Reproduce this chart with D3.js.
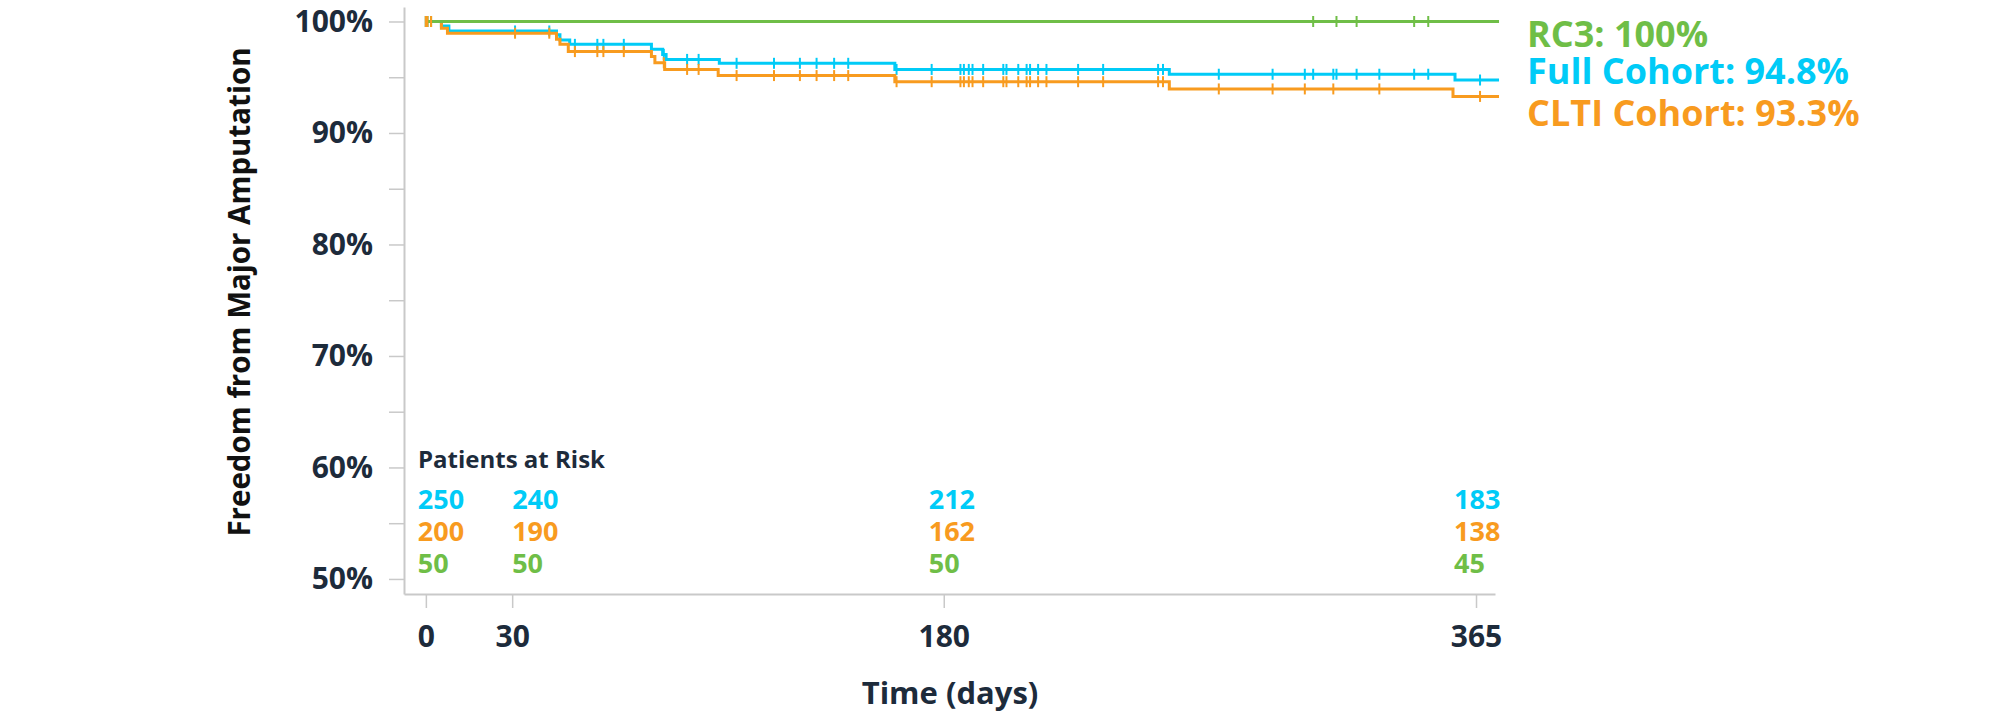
<!DOCTYPE html>
<html>
<head>
<meta charset="utf-8">
<script src="https://cdn.jsdelivr.net/npm/d3@7"></script>
<style>
  html, body { margin: 0; padding: 0; background: #ffffff; }
  svg { display: block; font-family: "Open Sans", Lato, sans-serif; }
</style>
</head>
<body>
<svg id="chart" width="2000" height="715"></svg>
<script>
// ---------------- DATA ----------------
const seriesNames = ["RC3", "Full Cohort", "CLTI Cohort"];
const finalRates = ["100%", "94.8%", "93.3%"];

// Kaplan-Meier steps: [day, survival %]
const rc3Steps = [[0, 100]];
const fullSteps = [[0, 100], [5.4, 99.6], [8, 99.15], [45.4, 98.8], [46.6, 98.35], [50, 97.95],
  [78.4, 97.5], [82.3, 97.05], [83.5, 96.6], [102, 96.25], [163, 95.7], [258.4, 95.27], [357.7, 94.75]];
const cltiSteps = [[0, 100], [5.4, 99.4], [7.5, 98.95], [45.4, 98.4], [46.6, 97.95], [49.5, 97.3],
  [78.4, 96.85], [79.6, 96.3], [83, 95.7], [101.6, 95.15], [163, 94.6], [258.4, 93.95], [357, 93.28]];
const curveEnd = 373;

// censor marks (days)
const rc3Censors = [0, 0.5, 1.8, 308.4, 316.5, 323.5, 343.5, 348.4];
const fullCensors = [0, 0.5, 1.8, 31, 42.9, 51.8, 59.6, 61.7, 68.8, 82.7, 90.8, 94.8, 108, 121, 130,
  135.8, 141.9, 146.8, 163.6, 175.8, 185.8, 187, 188.7, 190, 193.7, 200.7, 201.8, 205.9, 208.8, 210,
  212.8, 215.7, 226.7, 235.4, 254.5, 256.2, 275.6, 294.3, 305.5, 308.4, 315.4, 316.5, 323.5, 331.4,
  343.5, 348.4, 366.4];
const cltiCensors = [0, 0.5, 1.8, 31, 42.9, 51.8, 59.6, 61.7, 68.8, 82.7, 90.8, 94.8, 108, 121, 130,
  135.8, 141.9, 146.8, 163.6, 175.8, 185.8, 187, 188.7, 190, 193.7, 200.7, 201.8, 205.9, 208.8, 210,
  212.8, 215.7, 226.7, 235.4, 254.5, 256.2, 275.6, 294.3, 305.5, 315.4, 331.4, 366.4];

// axes
const yTicks = [50, 55, 60, 65, 70, 75, 80, 85, 90, 95, 100];
const xTicks = [0, 30, 180, 365];

// patients at risk
const riskDays = [0, 30, 180, 365];
const riskFull = [250, 240, 212, 183];
const riskClti = [200, 190, 162, 138];
const riskRc3 = [50, 50, 50, 45];

// ---------------- STYLE ----------------
const colGreen = "#6fbe47";
const colCyan = "#00cbf7";
const colOrange = "#f89b1f";
const colText = "#1d2b3b";
const colAxis = "#c9c9c9";
const fontFam = "'Open Sans', Lato, sans-serif";

const svg = d3.select("#chart");

const x = d3.scaleLinear().domain([-7.6, 371.6]).range([404, 1495]);
const y = d3.scaleLinear().domain([48.65, 101.3]).range([594, 7]);

// y axis
const yAxis = svg.append("g").attr("transform", "translate(404,0)")
  .call(d3.axisLeft(y).tickValues(yTicks).tickSize(15).tickSizeOuter(0).tickPadding(16)
    .tickFormat(d => d % 10 === 0 ? d + "%" : ""));
yAxis.select(".domain").attr("stroke", colAxis).attr("stroke-width", 2);
yAxis.selectAll(".tick line").attr("stroke", colAxis).attr("stroke-width", 1.5);
yAxis.selectAll(".tick text").attr("fill", colText).attr("font-size", 30).attr("font-weight", 700)
  .attr("font-family", fontFam);

// x axis
const xAxis = svg.append("g").attr("transform", "translate(0,594)")
  .call(d3.axisBottom(x).tickValues(xTicks).tickSize(14).tickSizeOuter(0).tickPadding(18)
    .tickFormat(d3.format("d")));
xAxis.select(".domain").attr("stroke", colAxis).attr("stroke-width", 2);
xAxis.selectAll(".tick line").attr("stroke", colAxis).attr("stroke-width", 1.5);
xAxis.selectAll(".tick text").attr("fill", colText).attr("font-size", 30).attr("font-weight", 700)
  .attr("font-family", fontFam);

// axis titles
svg.append("text")
  .attr("transform", "translate(240,292) rotate(-90)")
  .attr("text-anchor", "middle").attr("dy", "0.35em")
  .attr("fill", "#111").attr("font-size", 29.5).attr("font-weight", 700)
  .text("Freedom from Major Amputation");
svg.append("text")
  .attr("x", 950).attr("y", 704)
  .attr("text-anchor", "middle")
  .attr("fill", colText).attr("font-size", 31).attr("font-weight", 700)
  .text("Time (days)");

// curves
const stepLine = d3.line().x(d => x(d[0])).y(d => y(d[1])).curve(d3.curveStepAfter);
function withEnd(steps) { return steps.concat([[curveEnd, steps[steps.length - 1][1]]]); }
function survAt(steps, t) {
  let v = steps[0][1];
  for (const s of steps) { if (s[0] <= t) v = s[1]; }
  return v;
}
const curves = [
  { steps: fullSteps, censors: fullCensors, color: colCyan },
  { steps: cltiSteps, censors: cltiCensors, color: colOrange },
  { steps: rc3Steps, censors: rc3Censors, color: colGreen }
];
curves.forEach(c => {
  svg.append("path").datum(withEnd(c.steps))
    .attr("d", stepLine).attr("fill", "none")
    .attr("stroke", c.color).attr("stroke-width", 3);
  svg.append("g").selectAll("line").data(c.censors).join("line")
    .attr("x1", d => x(d)).attr("x2", d => x(d))
    .attr("y1", d => y(survAt(c.steps, d)) - 5.5)
    .attr("y2", d => y(survAt(c.steps, d)) + 5.5)
    .attr("stroke", c.color).attr("stroke-width", 2);
});
// the start marks appear orange on top
svg.append("g").selectAll("line").data(cltiCensors.filter(d => d < 5)).join("line")
  .attr("x1", d => x(d)).attr("x2", d => x(d))
  .attr("y1", d => y(100) - 5.5).attr("y2", d => y(100) + 5.5)
  .attr("stroke", colOrange).attr("stroke-width", 2);

// legend
const legendColors = [colGreen, colCyan, colOrange];
const legendY = [47, 84, 126];
seriesNames.forEach((n, i) => {
  svg.append("text").attr("x", 1527).attr("y", legendY[i])
    .attr("fill", legendColors[i]).attr("font-size", 36).attr("font-weight", 700)
    .text(n + ": " + finalRates[i]);
});

// patients at risk
svg.append("text").attr("x", 418).attr("y", 468)
  .attr("fill", colText).attr("font-size", 24).attr("font-weight", 700)
  .text("Patients at Risk");
const colOffsets = [-8, 0, -15, -22];
const riskRows = [
  { vals: riskFull, color: colCyan, y: 509 },
  { vals: riskClti, color: colOrange, y: 541 },
  { vals: riskRc3, color: colGreen, y: 573 }
];
riskRows.forEach(r => {
  svg.append("g").selectAll("text").data(r.vals).join("text")
    .attr("x", (d, i) => x(riskDays[i]) + colOffsets[i])
    .attr("y", r.y)
    .attr("fill", r.color).attr("font-size", 27).attr("font-weight", 700)
    .text(d => d);
});
</script>
</body>
</html>
